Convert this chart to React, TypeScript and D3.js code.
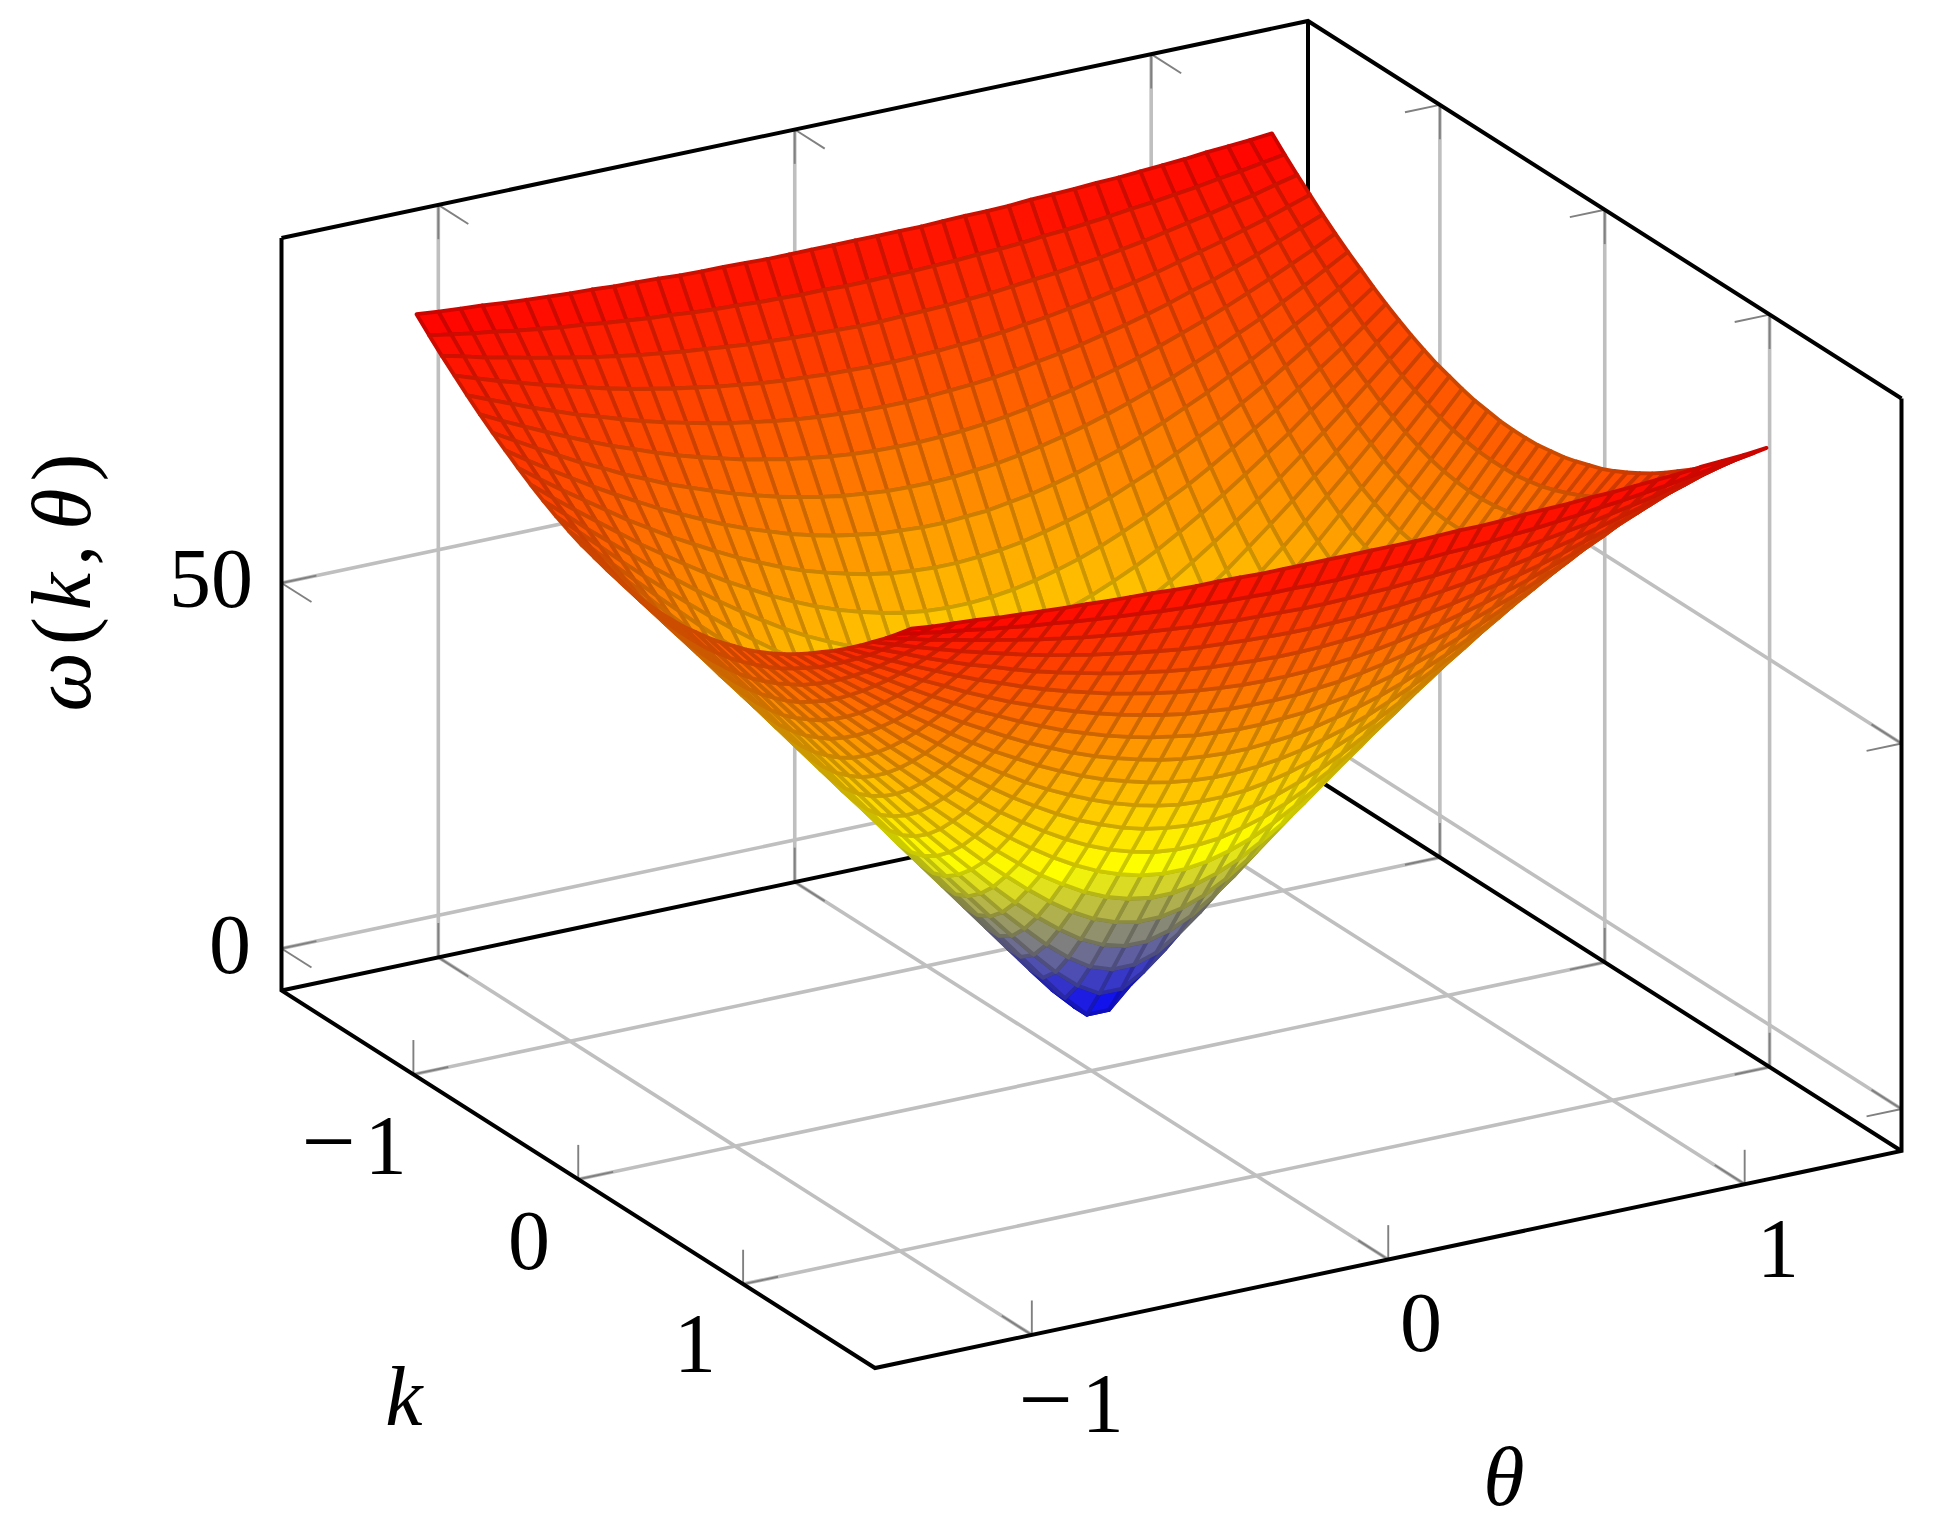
import React, { useEffect, useRef } from 'react';
import * as d3 from 'd3';

// Surface is mirror symmetric in k and theta, so only the k>0, theta>0 quarter is listed.
const kHalf = [0.0385, 0.1154, 0.1923, 0.2692, 0.3462, 0.4231, 0.5, 0.5769, 0.6538, 0.7308, 0.8077, 0.8846, 0.9615, 1.0385, 1.1154, 1.1923, 1.2692, 1.3462, 1.4231, 1.5];
const thetaHalf = [0.0308, 0.0923, 0.1538, 0.2154, 0.2769, 0.3385, 0.4, 0.4615, 0.5231, 0.5846, 0.6462, 0.7077, 0.7692, 0.8308, 0.8923, 0.9538, 1.0154, 1.0769, 1.1385, 1.2];

// one row per kHalf value, one column per thetaHalf value
const omegaQuarter = [
  [2.8, 5.7, 9.1, 12.6, 16.1, 19.6, 23.1, 26.6, 30.1, 33.7, 37.2, 40.7, 44.3, 47.8, 51.3, 54.9, 58.4, 61.9, 65.5, 69.0],
  [6.8, 8.5, 11.0, 14.0, 17.2, 20.5, 23.9, 27.3, 30.7, 34.2, 37.6, 41.1, 44.6, 48.1, 51.6, 55.1, 58.6, 62.1, 65.6, 69.1],
  [11.2, 12.2, 14.1, 16.5, 19.3, 22.2, 25.4, 28.6, 31.8, 35.1, 38.5, 41.9, 45.3, 48.7, 52.1, 55.5, 59.0, 62.4, 65.9, 69.4],
  [15.5, 16.3, 17.7, 19.7, 22.0, 24.6, 27.4, 30.4, 33.4, 36.5, 39.7, 43.0, 46.2, 49.5, 52.9, 56.2, 59.6, 62.9, 66.3, 69.7],
  [19.9, 20.5, 21.6, 23.2, 25.2, 27.5, 30.0, 32.6, 35.4, 38.3, 41.3, 44.4, 47.5, 50.6, 53.8, 57.1, 60.3, 63.6, 66.9, 70.2],
  [24.3, 24.8, 25.7, 27.0, 28.7, 30.6, 32.8, 35.2, 37.8, 40.5, 43.2, 46.1, 49.0, 52.0, 55.1, 58.1, 61.2, 64.4, 67.6, 70.8],
  [28.7, 29.1, 29.9, 31.0, 32.4, 34.1, 36.0, 38.1, 40.4, 42.9, 45.4, 48.1, 50.8, 53.6, 56.5, 59.4, 62.4, 65.4, 68.4, 71.4],
  [33.1, 33.4, 34.1, 35.0, 36.2, 37.7, 39.4, 41.3, 43.3, 45.5, 47.8, 50.3, 52.8, 55.4, 58.1, 60.8, 63.6, 66.4, 69.3, 72.2],
  [37.5, 37.8, 38.3, 39.1, 40.2, 41.4, 42.9, 44.6, 46.4, 48.4, 50.5, 52.7, 55.0, 57.4, 59.9, 62.4, 65.0, 67.7, 70.4, 73.1],
  [41.9, 42.1, 42.6, 43.3, 44.2, 45.3, 46.6, 48.0, 49.6, 51.4, 53.3, 55.3, 57.4, 59.6, 61.8, 64.2, 66.6, 69.0, 71.6, 74.1],
  [46.3, 46.5, 46.9, 47.5, 48.3, 49.2, 50.3, 51.6, 53.0, 54.6, 56.2, 58.0, 59.9, 61.9, 63.9, 66.1, 68.3, 70.5, 72.8, 75.2],
  [50.7, 50.9, 51.2, 51.7, 52.4, 53.2, 54.1, 55.2, 56.5, 57.8, 59.3, 60.9, 62.5, 64.3, 66.1, 68.1, 70.1, 72.1, 74.2, 76.4],
  [55.1, 55.3, 55.5, 56.0, 56.5, 57.2, 58.0, 59.0, 60.0, 61.2, 62.5, 63.9, 65.3, 66.9, 68.5, 70.2, 72.0, 73.8, 75.7, 77.7],
  [59.5, 59.6, 59.9, 60.2, 60.7, 61.3, 62.0, 62.8, 63.7, 64.7, 65.8, 66.9, 68.2, 69.5, 71.0, 72.4, 74.0, 75.6, 77.3, 79.0],
  [63.9, 64.0, 64.2, 64.5, 64.9, 65.4, 66.0, 66.6, 67.4, 68.2, 69.1, 70.1, 71.2, 72.3, 73.5, 74.8, 76.1, 77.5, 78.9, 80.4],
  [68.3, 68.4, 68.6, 68.8, 69.1, 69.5, 70.0, 70.5, 71.1, 71.8, 72.5, 73.3, 74.2, 75.2, 76.1, 77.2, 78.3, 79.5, 80.7, 81.9],
  [72.7, 72.8, 72.9, 73.1, 73.3, 73.6, 74.0, 74.4, 74.9, 75.4, 76.0, 76.6, 77.3, 78.1, 78.9, 79.7, 80.6, 81.5, 82.5, 83.5],
  [77.1, 77.2, 77.3, 77.4, 77.6, 77.8, 78.1, 78.4, 78.7, 79.1, 79.5, 80.0, 80.5, 81.1, 81.7, 82.3, 83.0, 83.6, 84.4, 85.1],
  [81.5, 81.6, 81.6, 81.7, 81.8, 82.0, 82.1, 82.3, 82.6, 82.8, 83.1, 83.4, 83.8, 84.1, 84.5, 84.9, 85.4, 85.8, 86.3, 86.8],
  [86.0, 86.0, 86.0, 86.0, 86.1, 86.2, 86.2, 86.3, 86.5, 86.6, 86.7, 86.9, 87.0, 87.2, 87.4, 87.6, 87.9, 88.1, 88.3, 88.6],
];

const kTicks = [-1, 0, 1];
const thetaTicks = [-1, 0, 1];
const omegaTicks = [0, 50];

const kDomain = [-1.8, 1.8];
const thetaDomain = [-1.44, 1.44];
const omegaDomain = [-5.75, 97.19];
const colorStops = ['blue', 'yellow', 'rgb(255,128,0)', 'red'];

const FONT = '"Liberation Serif", serif';
const FONT_SIZE = 84;

export default function App() {
  const ref = useRef<SVGSVGElement>(null);

  useEffect(() => {
    const svg = d3.select(ref.current);
    svg.selectAll('*').remove();

    const originX = 281.5;
    const kX = d3.scaleLinear().domain(kDomain).range([0, 593.5]);
    const kY = d3.scaleLinear().domain(kDomain).range([0, 377.5]);
    const tX = d3.scaleLinear().domain(thetaDomain).range([0, 1026.5]);
    const tY = d3.scaleLinear().domain(thetaDomain).range([0, -217]);
    const zY = d3.scaleLinear().domain(omegaDomain).range([990.5, 238]);

    const project = (k: number, t: number, z: number): [number, number] => [
      originX + kX(k) + tX(t),
      zY(z) + kY(k) + tY(t),
    ];
    const line = (pts: [number, number, number][]) => d3.line()(pts.map(p => project(p[0], p[1], p[2])));

    const [kLo, kHi] = kDomain;
    const [tLo, tHi] = thetaDomain;
    const [zLo, zHi] = omegaDomain;

    // grid on the two back walls and the floor
    const grid = svg.append('g').attr('fill', 'none').attr('stroke', '#bfbfbf').attr('stroke-width', 3.6);
    const gridPaths: [number, number, number][][] = [];
    thetaTicks.forEach(t => {
      gridPaths.push([[kLo, t, zLo], [kLo, t, zHi]]);
      gridPaths.push([[kLo, t, zLo], [kHi, t, zLo]]);
    });
    kTicks.forEach(k => {
      gridPaths.push([[k, tHi, zLo], [k, tHi, zHi]]);
      gridPaths.push([[k, tLo, zLo], [k, tHi, zLo]]);
    });
    omegaTicks.forEach(z => {
      gridPaths.push([[kLo, tLo, z], [kLo, tHi, z]]);
      gridPaths.push([[kLo, tHi, z], [kHi, tHi, z]]);
    });
    grid.selectAll('path').data(gridPaths).join('path').attr('d', d => line(d));

    // tick marks, two short strokes at each place
    const dk = 0.182;
    const dt = 0.098;
    const dz = 4.7;
    const tickPaths: [number, number, number][][] = [];
    thetaTicks.forEach(t => {
      tickPaths.push([[kHi, t, zLo], [kHi, t, zLo + dz]], [[kHi, t, zLo], [kHi - dk, t, zLo]]);
      tickPaths.push([[kLo, t, zLo], [kLo, t, zLo + dz]], [[kLo, t, zLo], [kLo + dk, t, zLo]]);
      tickPaths.push([[kLo, t, zHi], [kLo, t, zHi - dz]], [[kLo, t, zHi], [kLo + dk, t, zHi]]);
    });
    kTicks.forEach(k => {
      tickPaths.push([[k, tLo, zLo], [k, tLo, zLo + dz]], [[k, tLo, zLo], [k, tLo + dt, zLo]]);
      tickPaths.push([[k, tHi, zLo], [k, tHi, zLo + dz]], [[k, tHi, zLo], [k, tHi - dt, zLo]]);
      tickPaths.push([[k, tHi, zHi], [k, tHi, zHi - dz]], [[k, tHi, zHi], [k, tHi - dt, zHi]]);
    });
    omegaTicks.forEach(z => {
      tickPaths.push([[kLo, tLo, z], [kLo + dk, tLo, z]], [[kLo, tLo, z], [kLo, tLo + dt, z]]);
      tickPaths.push([[kHi, tHi, z], [kHi - dk, tHi, z]], [[kHi, tHi, z], [kHi, tHi - dt, z]]);
      tickPaths.push([[kLo, tHi, z], [kLo + dk, tHi, z]], [[kLo, tHi, z], [kLo, tHi - dt, z]]);
    });
    svg.append('g').attr('fill', 'none').attr('stroke', '#808080').attr('stroke-width', 1.9)
      .selectAll('path').data(tickPaths).join('path').attr('d', d => line(d));

    // back part of the box, hidden by the surface where they cross
    const box = (pts: [number, number, number][]) =>
      svg.append('path').attr('d', line(pts)).attr('fill', 'none').attr('stroke', 'black')
        .attr('stroke-width', 4).attr('stroke-linejoin', 'miter');
    box([[kLo, tLo, zLo], [kLo, tHi, zLo], [kHi, tHi, zLo]]);
    box([[kLo, tHi, zLo], [kLo, tHi, zHi]]);
    box([[kLo, tLo, zHi], [kLo, tHi, zHi], [kHi, tHi, zHi]]);

    // mirror the quarter table out to the whole sampling grid
    const kAll = [...kHalf.map(v => -v).reverse(), ...kHalf];
    const tAll = [...thetaHalf.map(v => -v).reverse(), ...thetaHalf];
    const idx = (n: number, i: number) => (i < n / 2 ? n / 2 - 1 - i : i - n / 2);
    const omegaAt = (i: number, j: number) => omegaQuarter[idx(kAll.length, i)][idx(tAll.length, j)];

    const color = d3.scaleLinear<string>()
      .domain([0, 1 / 3, 2 / 3, 1])
      .range(colorStops);
    const meta = d3.scaleLinear().domain([2.8, 88.6]).range([0, 1]).clamp(true);

    // back to front: the viewer sits at high k, low theta
    const faces: { d: string; fill: string; stroke: string }[] = [];
    for (let i = 0; i < kAll.length - 1; i++) {
      for (let j = tAll.length - 2; j >= 0; j--) {
        const z = [omegaAt(i, j), omegaAt(i + 1, j), omegaAt(i + 1, j + 1), omegaAt(i, j + 1)];
        const pts = [
          project(kAll[i], tAll[j], z[0]),
          project(kAll[i + 1], tAll[j], z[1]),
          project(kAll[i + 1], tAll[j + 1], z[2]),
          project(kAll[i], tAll[j + 1], z[3]),
        ];
        const fill = color(meta(d3.mean(z) as number));
        faces.push({
          d: d3.line()(pts) + 'Z',
          fill,
          stroke: d3.interpolateRgb(fill, 'black')(0.2),
        });
      }
    }
    svg.append('g')
      .attr('stroke-width', 3.8)
      .attr('stroke-linejoin', 'round')
      .selectAll('path').data(faces).join('path')
      .attr('d', d => d.d)
      .attr('fill', d => d.fill)
      .attr('stroke', d => d.stroke);

    // front edges go over everything
    box([[kLo, tLo, zHi], [kLo, tLo, zLo], [kHi, tLo, zLo], [kHi, tHi, zLo], [kHi, tHi, zHi]]);

    const label = (x: number, y: number) =>
      svg.append('text').attr('x', x).attr('y', y).attr('dy', '0.33em')
        .attr('text-anchor', 'middle').attr('font-family', FONT).attr('font-size', FONT_SIZE);

    const tickLabel = (v: number, x: number, y: number) => {
      const t = label(x, y);
      if (v < 0) {
        t.append('tspan').attr('font-size', FONT_SIZE * 1.15).text('\u2212');
        t.append('tspan').attr('dx', 9).text(String(Math.abs(v)));
      } else {
        t.text(String(v));
      }
    };
    const kLabelPos = [[354, 1146], [529, 1241], [695, 1344]];
    const thetaLabelPos = [[1071, 1404], [1421, 1323], [1778, 1249]];
    const omegaLabelPos = [[230, 945], [211, 579]];
    kTicks.forEach((v, i) => tickLabel(v, kLabelPos[i][0], kLabelPos[i][1]));
    thetaTicks.forEach((v, i) => tickLabel(v, thetaLabelPos[i][0], thetaLabelPos[i][1]));
    omegaTicks.forEach((v, i) => tickLabel(v, omegaLabelPos[i][0], omegaLabelPos[i][1]));

    label(404, 1397).attr('font-style', 'italic').text('k');
    label(1504, 1477).attr('font-style', 'italic').text('\u03b8');

    const yTitle = svg.append('text')
      .attr('transform', 'translate(62,579) rotate(-90)')
      .attr('dy', '0.33em')
      .attr('text-anchor', 'middle').attr('font-family', FONT).attr('font-size', FONT_SIZE)
      .attr('letter-spacing', 7);
    yTitle.append('tspan').attr('font-style', 'italic').text('\u03c9');
    yTitle.append('tspan').text('(');
    yTitle.append('tspan').attr('font-style', 'italic').text('k');
    yTitle.append('tspan').text(',');
    yTitle.append('tspan').attr('dx', 8).attr('font-style', 'italic').text('\u03b8');
    yTitle.append('tspan').text(')');
  }, []);

  return (
    <svg
      ref={ref}
      width={1943}
      height={1535}
      style={{ position: 'absolute', left: 0, top: 0, display: 'block', background: 'white' }}
    />
  );
}
